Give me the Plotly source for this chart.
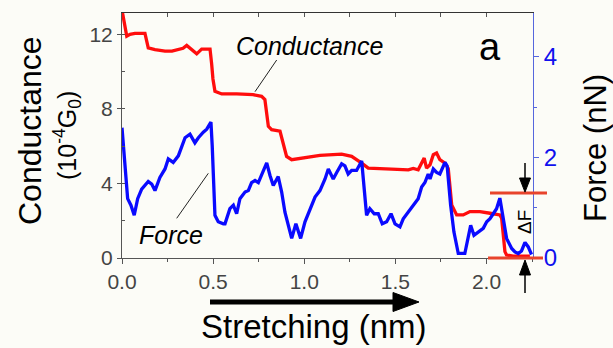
import plotly.graph_objects as go

# ---------------- data ----------------
x_cond = [0.0, 0.011, 0.026, 0.044, 0.071, 0.126, 0.144, 0.181, 0.236, 0.274, 0.307, 0.335, 0.355,
          0.382, 0.410, 0.437, 0.483, 0.492, 0.499, 0.510, 0.547, 0.629, 0.719, 0.766, 0.784, 0.803,
          0.821, 0.867, 0.876, 0.903, 0.931, 0.995, 1.086, 1.205, 1.260, 1.315, 1.351, 1.479, 1.571,
          1.598, 1.625, 1.644, 1.658, 1.671, 1.690, 1.708, 1.726, 1.744, 1.772, 1.790, 1.809, 1.836,
          1.872, 1.909, 1.964, 2.019, 2.073, 2.083, 2.101, 2.110, 2.146, 2.238]
conductance = [13.3, 12.6, 11.9, 12.0, 12.05, 12.05, 11.27, 11.18, 11.1, 11.1, 11.2, 11.25, 11.4,
               11.2, 10.95, 11.2, 11.2, 10.4, 9.6, 8.94, 8.8, 8.8, 8.76, 8.67, 8.5, 7.06,
               6.88, 6.8, 6.43, 5.45, 5.27, 5.36, 5.5, 5.57, 5.45, 5.09, 4.82, 4.77, 4.73,
               4.8, 4.73, 5.09, 5.36, 4.82, 5.0, 5.54, 5.63, 5.27, 5.09, 4.8, 2.85, 2.31,
               2.31, 2.49, 2.49, 2.4, 2.31, 2.13, 0.34, 0.16, 0.1, 0.1]

x_force = [0.0, 0.016, 0.031, 0.049, 0.067, 0.086, 0.108, 0.144, 0.163, 0.181, 0.208, 0.236, 0.254,
           0.281, 0.309, 0.346, 0.373, 0.400, 0.419, 0.446, 0.465, 0.488, 0.495, 0.510, 0.528, 0.556,
           0.565, 0.592, 0.611, 0.629, 0.647, 0.675, 0.693, 0.711, 0.730, 0.748, 0.766, 0.794, 0.812,
           0.830, 0.857, 0.876, 0.894, 0.912, 0.931, 0.954, 0.980, 1.004, 1.031, 1.059, 1.086, 1.114,
           1.132, 1.159, 1.178, 1.205, 1.223, 1.241, 1.260, 1.287, 1.315, 1.329, 1.342, 1.360, 1.384,
           1.406, 1.428, 1.452, 1.476, 1.498, 1.525, 1.543, 1.580, 1.603, 1.625, 1.644, 1.662, 1.680,
           1.690, 1.708, 1.726, 1.744, 1.772, 1.784, 1.803, 1.821, 1.845, 1.881, 1.900, 1.913, 1.931,
           1.955, 1.982, 2.001, 2.019, 2.037, 2.055, 2.073, 2.092, 2.110, 2.138, 2.156, 2.174, 2.192,
           2.211, 2.229, 2.247]
force = [2.59, 1.90, 1.18, 1.05, 0.85, 1.18, 1.37, 1.52, 1.47, 1.34, 1.60, 1.77, 1.97,
         1.90, 2.03, 2.39, 2.46, 2.29, 2.39, 2.50, 2.56, 2.70, 2.23, 0.85, 0.72, 0.68,
         0.68, 0.98, 1.05, 0.88, 1.18, 1.31, 1.34, 1.50, 1.54, 1.50, 1.64, 1.89, 1.64,
         1.44, 1.62, 1.31, 0.91, 0.65, 0.39, 0.68, 0.39, 0.72, 0.98, 1.21, 1.34, 1.57,
         1.77, 1.57, 1.70, 1.87, 1.83, 1.67, 1.74, 1.74, 1.93, 1.44, 0.85, 0.98, 0.88,
         0.88, 0.68, 0.72, 0.88, 0.68, 0.62, 0.78, 0.95, 1.06, 1.18, 1.41, 1.50, 1.67,
         1.57, 1.77, 1.70, 1.67, 1.90, 1.83, 1.05, 0.52, 0.09, 0.09, 0.45, 0.65, 0.45,
         0.52, 0.59, 0.72, 0.78, 0.88, 0.98, 1.19, 0.78, 0.39, 0.19, 0.12, 0.09, 0.14,
         0.31, 0.22, 0.07]

x_tick_vals = [0.0, 0.5, 1.0, 1.5, 2.0]
x_tick_labels = ["0.0", "0.5", "1.0", "1.5", "2.0"]
cond_tick_vals = [0, 4, 8, 12]
force_tick_vals = [0, 2, 4]
delta_f_level = 1.29

x_range = [0, 2.255]
cond_range = [0, 13.14]
force_range = [0, 4.87]

# ---------------- layout helpers ----------------
W, H = 613, 348
L, R, T, B = 122, 80, 13, 90
PW, PH = W - L - R, H - T - B
FONT = "Liberation Sans, Arial, sans-serif"
BG = "#fcfcf7"


def px(x):
    return (x - L) / PW


def py(y):
    return (T + PH - y) / PH


fig = go.Figure()
fig.add_trace(go.Scatter(x=x_cond, y=conductance, mode="lines",
                         line=dict(color="#ff0d0d", width=3.3), xaxis="x", yaxis="y",
                         showlegend=False, hoverinfo="skip"))
fig.add_trace(go.Scatter(x=x_force, y=force, mode="lines",
                         line=dict(color="#0a0aff", width=3.3), xaxis="x", yaxis="y2",
                         showlegend=False, hoverinfo="skip"))
fig.add_trace(go.Scatter(x=[None], y=[None], xaxis="x2", yaxis="y", showlegend=False,
                         hoverinfo="skip"))

shapes = []
annotations = []


def line(x0, y0, x1, y1, color="#222", width=1):
    shapes.append(dict(type="line", xref="paper", yref="paper",
                       x0=px(x0), y0=py(y0), x1=px(x1), y1=py(y1),
                       line=dict(color=color, width=width)))


def tri(pts, color="black"):
    path = "M " + " L ".join(f"{px(a):.5f},{py(b):.5f}" for a, b in pts) + " Z"
    shapes.append(dict(type="path", xref="paper", yref="paper", path=path,
                       fillcolor=color, line=dict(color=color, width=1)))


def text(t, x, y, size, angle=0, italic=False, color="black"):
    annotations.append(dict(text=t, xref="paper", yref="paper", x=px(x), y=py(y),
                            xanchor="center", yanchor="middle", showarrow=False,
                            textangle=angle,
                            font=dict(family=FONT, size=size, color=color,
                                      style="italic" if italic else "normal")))


# leader lines
line(276.7, 60, 255, 91.7)
line(208.3, 173.3, 176.7, 218.3)

# Delta F lines
yF = T + PH - delta_f_level / force_range[1] * PH
line(490, yF, 547, yF, color="#e8442c", width=3)
line(488, T + PH, 543, T + PH, color="#e8442c", width=3)

# Delta F arrows
line(525, 163, 525, 180, color="black", width=1.5)
tri([(519.5, 178), (530.5, 178), (525, yF - 1)])
tri([(519.5, 275), (530.5, 275), (525, T + PH + 2)])
line(525, 274, 525, 293, color="black", width=1.5)

# stretching arrow
line(210, 302, 396, 302, color="black", width=5)
tri([(393, 292.5), (393, 311.5), (419, 302)])

# texts
text("Conductance", 309, 46, 25, italic=True)
text("Force", 171, 235, 25, italic=True)
text("a", 490, 47, 38)
text("\u0394F", 524, 222, 19, angle=-90)
text("Conductance", 30, 131, 32, angle=-90)
text("(10<sup>-4</sup>G<sub>0</sub>)", 67, 136, 25, angle=-90)
text("Force (nN)", 595, 148, 31, angle=-90)
text("Stretching (nm)", 314, 326, 33)

fig.update_layout(
    width=W, height=H,
    margin=dict(l=L, r=R, t=T, b=B, pad=0),
    paper_bgcolor=BG, plot_bgcolor=BG,
    font=dict(family=FONT),
    shapes=shapes, annotations=annotations,
    xaxis=dict(range=x_range, showgrid=False, zeroline=False, showline=True,
               linecolor="#555", linewidth=1, ticks="outside", ticklen=5, tickcolor="#555",
               tickvals=x_tick_vals, ticktext=x_tick_labels,
               tickfont=dict(size=21, color="#444", family=FONT),
               minor=dict(dtick=0.25, tick0=0, ticks="outside", ticklen=3, tickcolor="#555")),
    xaxis2=dict(range=x_range, overlaying="x", side="top", showgrid=False, zeroline=False,
                showline=True, linecolor="#333", linewidth=1, ticks="inside", ticklen=4,
                tickcolor="#555", dtick=0.25, tick0=0, showticklabels=False),
    yaxis=dict(range=cond_range, showgrid=False, zeroline=False, showline=True,
               linecolor="#555", linewidth=1, ticks="outside", ticklen=4, tickcolor="#555",
               tickvals=cond_tick_vals, tickfont=dict(size=21, color="#444", family=FONT),
               minor=dict(dtick=2, tick0=0, ticks="inside", ticklen=3, tickcolor="#555")),
    yaxis2=dict(range=force_range, overlaying="y", side="right", showgrid=False,
                zeroline=False, showline=True, linecolor="#5566dd", linewidth=1,
                ticks="outside", ticklen=5, tickcolor="#5566dd", tickvals=force_tick_vals,
                tickfont=dict(size=24, color="#1010ee", family=FONT),
                minor=dict(dtick=1, tick0=0, ticks="outside", ticklen=3, tickcolor="#5566dd")),
)

fig.write_html("out.html")
